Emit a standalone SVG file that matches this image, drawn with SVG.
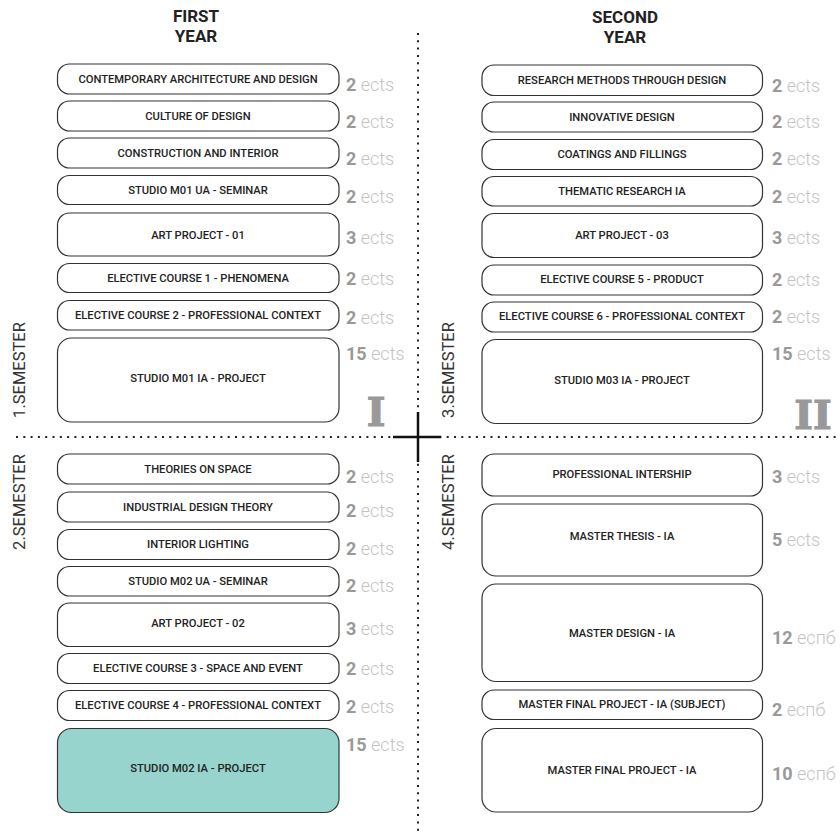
<svg xmlns="http://www.w3.org/2000/svg" width="840" height="835" viewBox="0 0 840 835">
<style>
.box{fill:#fff;stroke:#333;stroke-width:1.2}
.teal{fill:#97d4cd}
.lbl{font-family:Roboto,"Liberation Sans",sans-serif;font-size:11.2px;font-weight:500;fill:#222;text-anchor:middle}
.hd{font-family:Roboto,"Liberation Sans",sans-serif;font-size:17px;font-weight:700;fill:#222;text-anchor:middle}
.ects{font-family:Roboto,"Liberation Sans",sans-serif;font-size:18px;font-weight:300;fill:#c4c4c4}
.num{font-weight:700;fill:#999}
.sem{font-family:Roboto,"Liberation Sans",sans-serif;font-size:16.5px;fill:#333;text-anchor:middle}
.rom{font-family:"DejaVu Serif",serif;font-size:40px;font-weight:700;fill:#999;stroke:#999;stroke-width:1.2;text-anchor:middle}
.dot{stroke:#222;stroke-width:2;stroke-dasharray:2 5.3;fill:none}
.cross{stroke:#111;stroke-width:2.5;fill:none}
</style>
<g id="headers">
<text class="hd" x="196" y="22">FIRST</text>
<text class="hd" x="196" y="42">YEAR</text>
<text class="hd" x="625" y="23">SECOND</text>
<text class="hd" x="625" y="43">YEAR</text>
</g>
<g id="grid">
<line class="dot" x1="418" y1="33" x2="418" y2="835"/>
<line class="dot" x1="16" y1="437" x2="840" y2="437"/>
<line class="cross" x1="393" y1="437" x2="441" y2="437"/>
<line class="cross" x1="418" y1="412" x2="418" y2="462"/>
</g>
<g id="semesters">
<text class="sem" transform="translate(24.5,370) rotate(-90)">1.SEMESTER</text>
<text class="sem" transform="translate(24.5,502) rotate(-90)">2.SEMESTER</text>
<text class="sem" transform="translate(453.5,370) rotate(-90)">3.SEMESTER</text>
<text class="sem" transform="translate(453.5,502) rotate(-90)">4.SEMESTER</text>
<text class="rom" x="376" y="426">I</text>
<text class="rom" x="813" y="429">II</text>
</g>
<g id="c1"><rect class="box" x="57.5" y="64" width="281.5" height="30" rx="12"/><text class="lbl" x="198" y="83">CONTEMPORARY ARCHITECTURE AND DESIGN</text><text class="ects" x="346" y="91"><tspan class="num">2</tspan> ects</text></g>
<g id="c2"><rect class="box" x="57.5" y="101" width="281.5" height="30" rx="12"/><text class="lbl" x="198" y="120">CULTURE OF DESIGN</text><text class="ects" x="346" y="128"><tspan class="num">2</tspan> ects</text></g>
<g id="c3"><rect class="box" x="57.5" y="138" width="281.5" height="30" rx="12"/><text class="lbl" x="198" y="157">CONSTRUCTION AND INTERIOR</text><text class="ects" x="346" y="165"><tspan class="num">2</tspan> ects</text></g>
<g id="c4"><rect class="box" x="57.5" y="175.5" width="281.5" height="29" rx="12"/><text class="lbl" x="198" y="194">STUDIO M01 UA - SEMINAR</text><text class="ects" x="346" y="203"><tspan class="num">2</tspan> ects</text></g>
<g id="c5"><rect class="box" x="57.5" y="213" width="281.5" height="43" rx="12"/><text class="lbl" x="198" y="239">ART PROJECT - 01</text><text class="ects" x="346" y="244"><tspan class="num">3</tspan> ects</text></g>
<g id="c6"><rect class="box" x="57.5" y="263.5" width="281.5" height="29" rx="12"/><text class="lbl" x="198" y="282">ELECTIVE COURSE 1 - PHENOMENA</text><text class="ects" x="346" y="285"><tspan class="num">2</tspan> ects</text></g>
<g id="c7"><rect class="box" x="57.5" y="300.5" width="281.5" height="29.5" rx="12"/><text class="lbl" x="198" y="319">ELECTIVE COURSE 2 - PROFESSIONAL CONTEXT</text><text class="ects" x="346" y="324"><tspan class="num">2</tspan> ects</text></g>
<g id="c8"><rect class="box" x="57.5" y="338" width="281.5" height="84" rx="14"/><text class="lbl" x="198" y="382">STUDIO M01 IA - PROJECT</text><text class="ects" x="346" y="360"><tspan class="num">15</tspan> ects</text></g>
<g id="c9"><rect class="box" x="57.5" y="454" width="281.5" height="30" rx="12"/><text class="lbl" x="198" y="473">THEORIES ON SPACE</text><text class="ects" x="346" y="483"><tspan class="num">2</tspan> ects</text></g>
<g id="c10"><rect class="box" x="57.5" y="492" width="281.5" height="30" rx="12"/><text class="lbl" x="198" y="511">INDUSTRIAL DESIGN THEORY</text><text class="ects" x="346" y="517"><tspan class="num">2</tspan> ects</text></g>
<g id="c11"><rect class="box" x="57.5" y="529.5" width="281.5" height="30" rx="12"/><text class="lbl" x="198" y="548">INTERIOR LIGHTING</text><text class="ects" x="346" y="555"><tspan class="num">2</tspan> ects</text></g>
<g id="c12"><rect class="box" x="57.5" y="566.5" width="281.5" height="29.5" rx="12"/><text class="lbl" x="198" y="585">STUDIO M02 UA - SEMINAR</text><text class="ects" x="346" y="592"><tspan class="num">2</tspan> ects</text></g>
<g id="c13"><rect class="box" x="57.5" y="603" width="281.5" height="43.5" rx="12"/><text class="lbl" x="198" y="627">ART PROJECT - 02</text><text class="ects" x="346" y="635"><tspan class="num">3</tspan> ects</text></g>
<g id="c14"><rect class="box" x="57.5" y="653.5" width="281.5" height="30" rx="12"/><text class="lbl" x="198" y="672">ELECTIVE COURSE 3 - SPACE AND EVENT</text><text class="ects" x="346" y="675"><tspan class="num">2</tspan> ects</text></g>
<g id="c15"><rect class="box" x="57.5" y="690.5" width="281.5" height="30" rx="12"/><text class="lbl" x="198" y="709">ELECTIVE COURSE 4 - PROFESSIONAL CONTEXT</text><text class="ects" x="346" y="713"><tspan class="num">2</tspan> ects</text></g>
<g id="c16"><rect class="box teal" x="57.5" y="728.5" width="281.5" height="84" rx="14"/><text class="lbl" x="198" y="772">STUDIO M02 IA - PROJECT</text><text class="ects" x="346" y="751"><tspan class="num">15</tspan> ects</text></g>
<g id="d1"><rect class="box" x="482" y="65" width="280.5" height="30.5" rx="12"/><text class="lbl" x="622" y="84">RESEARCH METHODS THROUGH DESIGN</text><text class="ects" x="772" y="92"><tspan class="num">2</tspan> ects</text></g>
<g id="d2"><rect class="box" x="482" y="102" width="280.5" height="30" rx="12"/><text class="lbl" x="622" y="121">INNOVATIVE DESIGN</text><text class="ects" x="772" y="128"><tspan class="num">2</tspan> ects</text></g>
<g id="d3"><rect class="box" x="482" y="139.5" width="280.5" height="30" rx="12"/><text class="lbl" x="622" y="158">COATINGS AND FILLINGS</text><text class="ects" x="772" y="165"><tspan class="num">2</tspan> ects</text></g>
<g id="d4"><rect class="box" x="482" y="176.5" width="280.5" height="29.5" rx="12"/><text class="lbl" x="622" y="195">THEMATIC RESEARCH IA</text><text class="ects" x="772" y="203"><tspan class="num">2</tspan> ects</text></g>
<g id="d5"><rect class="box" x="482" y="213.5" width="280.5" height="44" rx="12"/><text class="lbl" x="622" y="239">ART PROJECT - 03</text><text class="ects" x="772" y="244"><tspan class="num">3</tspan> ects</text></g>
<g id="d6"><rect class="box" x="482" y="265" width="280.5" height="30" rx="12"/><text class="lbl" x="622" y="283">ELECTIVE COURSE 5 - PRODUCT</text><text class="ects" x="772" y="286"><tspan class="num">2</tspan> ects</text></g>
<g id="d7"><rect class="box" x="482" y="302" width="280.5" height="30" rx="12"/><text class="lbl" x="622" y="320">ELECTIVE COURSE 6 - PROFESSIONAL CONTEXT</text><text class="ects" x="772" y="323"><tspan class="num">2</tspan> ects</text></g>
<g id="d8"><rect class="box" x="482" y="339.5" width="280.5" height="84" rx="14"/><text class="lbl" x="622" y="384">STUDIO M03 IA - PROJECT</text><text class="ects" x="772" y="360"><tspan class="num">15</tspan> ects</text></g>
<g id="d9"><rect class="box" x="482" y="454" width="280.5" height="42" rx="12"/><text class="lbl" x="622" y="478">PROFESSIONAL INTERSHIP</text><text class="ects" x="772" y="483"><tspan class="num">3</tspan> ects</text></g>
<g id="d10"><rect class="box" x="482" y="504" width="280.5" height="72" rx="14"/><text class="lbl" x="622" y="540">MASTER THESIS - IA</text><text class="ects" x="772" y="546"><tspan class="num">5</tspan> ects</text></g>
<g id="d11"><rect class="box" x="482" y="584" width="280.5" height="97.5" rx="14"/><text class="lbl" x="622" y="637">MASTER DESIGN - IA</text><text class="ects" x="772" y="644"><tspan class="num">12</tspan> еспб</text></g>
<g id="d12"><rect class="box" x="482" y="690" width="280.5" height="29.5" rx="12"/><text class="lbl" x="622" y="708">MASTER FINAL PROJECT - IA (SUBJECT)</text><text class="ects" x="772" y="716"><tspan class="num">2</tspan> еспб</text></g>
<g id="d13"><rect class="box" x="482" y="728.5" width="280.5" height="83.5" rx="14"/><text class="lbl" x="622" y="774">MASTER FINAL PROJECT - IA</text><text class="ects" x="772" y="780"><tspan class="num">10</tspan> еспб</text></g>
</svg>
